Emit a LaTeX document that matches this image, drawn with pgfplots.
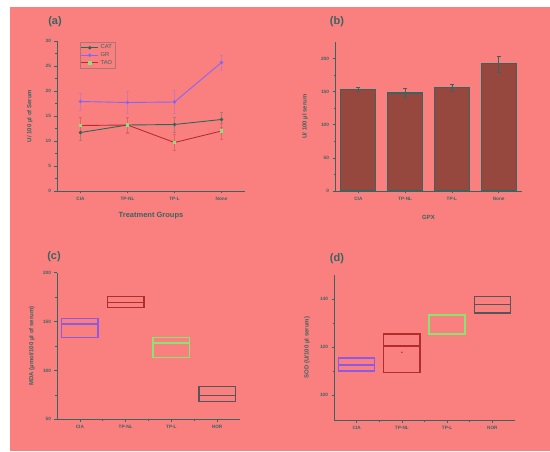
\documentclass[border=0pt]{standalone}
\usepackage{fontspec}
\setmainfont{Liberation Sans}
\usepackage{pgfplots}
\pgfplotsset{compat=1.18}
\usepgfplotslibrary{statistics}
\definecolor{bg}{RGB}{250,128,128}
\definecolor{axcol}{RGB}{58,100,95}
\definecolor{catcol}{RGB}{40,105,90}
\definecolor{grcol}{RGB}{135,100,245}
\definecolor{taocol}{RGB}{185,45,50}
\definecolor{taomark}{RGB}{130,230,120}
\definecolor{barfill}{RGB}{150,72,62}
\definecolor{ciacol}{RGB}{140,90,230}
\definecolor{tpnlcol}{RGB}{175,45,45}
\definecolor{tplcol}{RGB}{135,230,115}
\definecolor{norcol}{RGB}{85,85,90}
\pgfplotsset{
  panel/.style={
    scale only axis,
    axis lines=left,
    axis line style={-, axcol, line width=0.8pt},
    tick style={axcol, line width=0.6pt},
    tick align=outside,
    major tick length=2.5pt,
    minor tick length=1.5pt,
    xmin=-0.5, xmax=3.5,
    xtick={0,1,2,3},
    minor x tick num=1,
    minor y tick num=1,
    ticklabel style={font=\fontsize{4.7}{5}\selectfont\bfseries, text=axcol},
    /pgf/number format/assume math mode=true,
    label style={font=\fontsize{6}{7}\selectfont\bfseries, text=axcol},
    anchor=south west,
  },
  bx/.style={line width=1.4pt}
}
\begin{document}
\begin{tikzpicture}
\useasboundingbox (0,0) rectangle (550pt,451pt);
\fill[white] (0,0) rectangle (550pt,451pt);
\fill[bg] (10pt,0) rectangle (550pt,444pt);

% (a)
\begin{axis}[panel, at={(57pt,260pt)}, width=188pt, height=150pt,
  ymin=0, ymax=30, ytick={0,5,10,15,20,25,30},
  xticklabels={CIA,TP-NL,TP-L,None},
  xlabel={Treatment Groups},
  xlabel style={at={(axis description cs:0.5,-0.167)}, anchor=center, font=\fontsize{7.5}{8}\selectfont\bfseries},
  ylabel={U/ 100 µl of Serum},
  ylabel style={at={(axis description cs:-0.144,0.5)}, anchor=center},
  legend style={at={(rel axis cs:0.12,0.995)}, anchor=north west, draw=axcol!40!bg, fill=none,
    font=\fontsize{5.8}{6.5}\selectfont, text=axcol, row sep=-2pt, inner sep=1pt},
  legend cell align=left,
]
\addplot[catcol, line width=0.9pt, mark=*, mark size=1.3pt,
  error bars/.cd, y dir=both, y explicit, error bar style={catcol!35!bg, line width=0.5pt}]
  coordinates {(0,11.7) +- (0,1.5) (1,13.2) +- (0,1.5) (2,13.3) +- (0,1.5) (3,14.3) +- (0,1.5)};
\addlegendentry{CAT}
\addplot[grcol, line width=0.9pt, mark=*, mark size=1.3pt,
  error bars/.cd, y dir=both, y explicit, error bar style={grcol!35!bg, line width=0.5pt}]
  coordinates {(0,17.9) +- (0,1.7) (1,17.7) +- (0,2.2) (2,17.8) +- (0,2.3) (3,25.7) +- (0,1.5)};
\addlegendentry{GR}
\addplot[taocol, line width=0.9pt, mark=square*, mark size=1.3pt, mark options={fill=taomark, draw=taomark},
  error bars/.cd, y dir=both, y explicit, error bar style={taocol!35!bg, line width=0.5pt}]
  coordinates {(0,13.1) +- (0,1.6) (1,13.2) +- (0,1.6) (2,9.7) +- (0,1.6) (3,12.0) +- (0,1.6)};
\addlegendentry{TAO}
\end{axis}

% (b)
\begin{axis}[panel, at={(335pt,260pt)}, width=187pt, height=149pt,
  ymin=0, ymax=225, ytick={0,50,100,150,200},
  xticklabels={CIA,TP-NL,TP-L,None},
  xlabel={GPX},
  xlabel style={at={(axis description cs:0.5,-0.18)}, anchor=center},
  ylabel={U/ 100 µl serum},
  ylabel style={at={(axis description cs:-0.16,0.5)}, anchor=center},
]
\addplot[ybar, bar width=35pt, fill=barfill, draw=axcol, line width=1.2pt,
  error bars/.cd, y dir=both, y explicit, error bar style={axcol, line width=0.6pt}]
  coordinates {(0,153) +- (0,3) (1,148) +- (0,7) (2,156) +- (0,5) (3,192) +- (0,12)};
\end{axis}

% (c)
\begin{axis}[panel, at={(57pt,31.7pt)}, width=183pt, height=146.6pt,
  ymin=50, ymax=200, ytick={50,100,150,200},
  xticklabels={CIA,TP-NL,TP-L,NOR},
  ylabel={MDA (µmol/100 µl of serum)},
  ylabel style={at={(axis description cs:-0.137,0.5)}, anchor=center},
  boxplot/draw direction=y,
]
\addplot[ciacol, bx, boxplot prepared={draw position=0, median=147.6,
  upper quartile=153.4, lower quartile=133.7, upper whisker=153.4, lower whisker=133.7}]
  coordinates {};
\addplot[tpnlcol, bx, boxplot prepared={draw position=1, median=169.7,
  upper quartile=175.5, lower quartile=164.3, upper whisker=175.5, lower whisker=164.3}]
  coordinates {};
\addplot[tplcol, bx, line width=1.6pt, boxplot prepared={draw position=2, median=127.9,
  upper quartile=133.7, lower quartile=113.3, upper whisker=133.7, lower whisker=113.3}]
  coordinates {};
\addplot[norcol, bx, boxplot prepared={draw position=3, median=74.5,
  upper quartile=83.7, lower quartile=68.4, upper whisker=83.7, lower whisker=68.4}]
  coordinates {};
\end{axis}

% (d)
\begin{axis}[panel, at={(334pt,31pt)}, width=181pt, height=145pt,
  ymin=89.5, ymax=150, ytick={100,120,140},
  xticklabels={CIA,TP-NL,TP-L,NOR},
  ylabel={SOD (U/100 µl serum)},
  ylabel style={at={(axis description cs:-0.149,0.5)}, anchor=center},
  boxplot/draw direction=y,
]
\addplot[ciacol, bx, boxplot prepared={draw position=0, median=112.5,
  upper quartile=115.3, lower quartile=109.9, upper whisker=115.3, lower whisker=109.9}]
  coordinates {};
\addplot[tpnlcol, bx, boxplot prepared={draw position=1, median=120.3,
  upper quartile=125.3, lower quartile=109.4, upper whisker=125.3, lower whisker=109.4}]
  coordinates {};
\addplot[tplcol, bx, line width=1.6pt, boxplot prepared={draw position=2, median=125.5,
  upper quartile=133.3, lower quartile=125.3, upper whisker=133.3, lower whisker=125.3}]
  coordinates {};
\addplot[norcol, bx, boxplot prepared={draw position=3, median=137.6,
  upper quartile=141.0, lower quartile=134.2, upper whisker=141.0, lower whisker=134.2}]
  coordinates {};
\addplot[only marks, mark=*, mark size=0.5pt, tpnlcol] coordinates {(1,117.8)};
\end{axis}

\node[font=\fontsize{11}{12}\selectfont\bfseries, text=axcol] at (55pt,429pt) {(a)};
\node[font=\fontsize{11}{12}\selectfont\bfseries, text=axcol] at (337pt,429pt) {(b)};
\node[font=\fontsize{11}{12}\selectfont\bfseries, text=axcol] at (54pt,194pt) {(c)};
\node[font=\fontsize{11}{12}\selectfont\bfseries, text=axcol] at (337pt,192pt) {(d)};
\end{tikzpicture}
\end{document}
